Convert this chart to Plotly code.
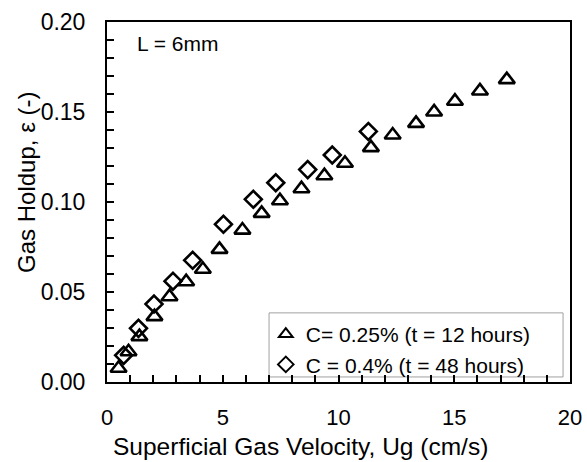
import plotly.graph_objects as go

ug_c025 = [0.50, 0.93, 1.40, 2.05, 2.70, 3.42, 4.14, 4.86, 5.85, 6.68, 7.47, 8.40, 9.39, 10.28, 11.40, 12.34, 13.35, 14.13, 15.03, 16.11, 17.27]
eps_c025 = [0.0076, 0.0168, 0.0252, 0.0363, 0.0474, 0.0557, 0.0626, 0.0737, 0.0844, 0.0937, 0.1007, 0.1074, 0.1146, 0.1215, 0.1302, 0.1372, 0.1437, 0.1500, 0.1560, 0.1617, 0.1680]

ug_c04 = [0.72, 1.36, 2.03, 2.85, 3.70, 5.03, 6.32, 7.29, 8.67, 9.73, 11.29]
eps_c04 = [0.0148, 0.0298, 0.0433, 0.0560, 0.0676, 0.0876, 0.1015, 0.1107, 0.1180, 0.1261, 0.1392]

FONT = "Arial, Liberation Sans, sans-serif"

fig = go.Figure()
fig.add_trace(go.Scatter(x=ug_c025, y=eps_c025, mode="markers", name="C= 0.25% (t = 12 hours)",
                         marker=dict(symbol="triangle-up-open", size=14, color="black", line=dict(width=2.6, color="black"))))
fig.add_trace(go.Scatter(x=ug_c04, y=eps_c04, mode="markers", name="C = 0.4% (t = 48 hours)",
                         marker=dict(symbol="diamond-open", size=13, color="black", line=dict(width=2.6, color="black"))))

axis_common = dict(showgrid=False, zeroline=False, showline=True, linecolor="black", linewidth=2,
                   mirror=True, ticks="inside", tickwidth=2, tickcolor="black", ticklen=7,
                   automargin=False)

fig.update_xaxes(range=[0, 20], dtick=5, tick0=0, ticklabelstandoff=15,
                 tickfont=dict(family=FONT, size=22, color="black"),
                 minor=dict(dtick=1, ticks="inside", ticklen=7, tickwidth=2, tickcolor="black"),
                 **axis_common)
fig.update_yaxes(range=[0, 0.2], dtick=0.05, tick0=0, tickformat=".2f", ticklabelstandoff=15,
                 tickfont=dict(family=FONT, size=23, color="black"),
                 minor=dict(dtick=0.01, ticks="inside", ticklen=7, tickwidth=2, tickcolor="black"),
                 **axis_common)

# axis titles
fig.add_annotation(x=0.419, y=0, xref="paper", yref="paper", yshift=-64,
                   text="Superficial Gas Velocity, Ug (cm/s)", showarrow=False,
                   xanchor="center", yanchor="middle", font=dict(family=FONT, size=24.5, color="black"))
fig.add_annotation(x=0, y=0.553, xref="paper", yref="paper", xshift=-80, textangle=-90,
                   text="Gas Holdup, ε (-)", showarrow=False,
                   xanchor="center", yanchor="middle", font=dict(family=FONT, size=24, color="black"))

fig.add_annotation(x=0.06, y=0.978, xref="paper", yref="paper", text="L = 6mm", showarrow=False,
                   xanchor="left", yanchor="top", font=dict(family=FONT, size=21, color="black"))

# legend frame
fig.add_shape(type="rect", xref="paper", yref="paper", x0=0.350, x1=0.985, y0=0.014, y1=0.192,
              line=dict(color="#a0a0a0", width=1), fillcolor="white", layer="below")

fig.update_layout(width=587, height=462, margin=dict(l=107, r=17, t=22, b=80),
                  paper_bgcolor="white", plot_bgcolor="white",
                  legend=dict(x=0.343, y=0.189, xanchor="left", yanchor="top",
                              borderwidth=0, bgcolor="rgba(0,0,0,0)",
                              font=dict(family=FONT, size=21, color="black"),
                              tracegroupgap=0, itemsizing="constant"),
                  showlegend=True)

fig.write_html("out.html")
